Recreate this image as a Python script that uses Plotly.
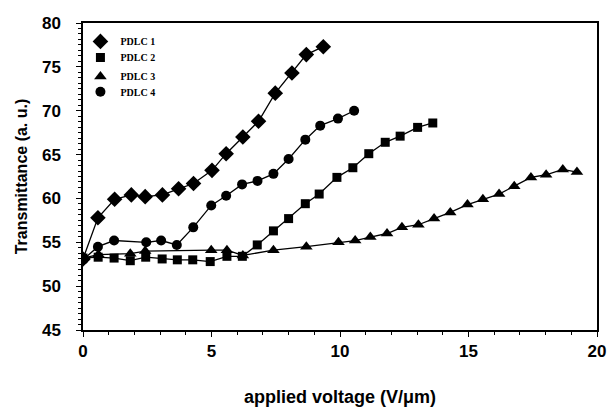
import plotly.graph_objects as go

# PDLC 1 (diamonds)
x1 = [0, 0.58, 1.23, 1.88, 2.42, 3.09, 3.72, 4.30, 5.02, 5.57, 6.22, 6.83, 7.48, 8.13, 8.69, 9.35]
y1 = [53.1, 57.8, 59.9, 60.4, 60.2, 60.4, 61.1, 61.7, 63.2, 65.1, 67.0, 68.8, 72.0, 74.3, 76.4, 77.3]

# PDLC 2 (squares)
x2 = [0, 0.59, 1.21, 1.84, 2.44, 3.08, 3.67, 4.27, 4.95, 5.60, 6.20, 6.78, 7.41, 8.0, 8.65,
      9.19, 9.88, 10.5, 11.12, 11.76, 12.34, 13.02, 13.61]
y2 = [53.2, 53.3, 53.2, 52.9, 53.3, 53.1, 53.0, 53.0, 52.8, 53.4, 53.4, 54.7, 56.3, 57.7, 59.4,
      60.5, 62.4, 63.5, 65.1, 66.4, 67.1, 68.1, 68.6]

# PDLC 3 (triangles)
x3 = [0, 0.6, 1.84, 2.42, 4.99, 5.6, 6.22, 7.41, 8.69, 9.94, 10.59, 11.18, 11.83, 12.41, 13.05,
      13.66, 14.29, 14.96, 15.56, 16.19, 16.78, 17.43, 18.02, 18.67, 19.22]
y3 = [53.2, 53.6, 53.7, 54.0, 54.1, 54.1, 53.5, 54.1, 54.5, 55.0, 55.2, 55.6, 56.0, 56.7, 57.0,
      57.7, 58.4, 59.3, 59.9, 60.5, 61.4, 62.4, 62.7, 63.3, 63.0]

# PDLC 4 (circles)
x4 = [0, 0.58, 1.21, 2.46, 3.04, 3.65, 4.29, 4.99, 5.57, 6.19, 6.79, 7.41, 8.0, 8.65, 9.23, 9.92, 10.55]
y4 = [53.0, 54.5, 55.2, 55.0, 55.2, 54.7, 56.7, 59.2, 60.3, 61.6, 62.0, 62.8, 64.5, 66.7, 68.3, 69.1, 70.0]

names = ["PDLC 1", "PDLC 2", "PDLC 3", "PDLC 4"]
symbols = ["diamond", "square", "triangle-up", "circle"]
sizes = [12, 9, 11, 10]
legend_ids = ["legend", "legend2", "legend3", "legend4"]
legend_y = [0.94, 0.888, 0.826, 0.776]

fig = go.Figure()
for xs, ys, nm, sym, sz, lid in zip([x1, x2, x3, x4], [y1, y2, y3, y4], names, symbols, sizes, legend_ids):
    fig.add_trace(go.Scatter(
        x=xs, y=ys, name=nm, mode="lines", showlegend=False,
        line=dict(color="black", width=1.3), hoverinfo="skip",
    ))
    fig.add_trace(go.Scatter(
        x=xs, y=ys, name=nm, mode="markers", legend=lid,
        marker=dict(symbol=sym, size=sz, color="black"),
    ))

leg_font = dict(family="Liberation Serif, Times New Roman, serif", size=10, color="black", weight="bold")
legends = {}
for lid, ly in zip(legend_ids, legend_y):
    legends[lid] = dict(
        x=-0.005, y=ly, xanchor="left", yanchor="middle",
        font=leg_font, bgcolor="rgba(0,0,0,0)", itemwidth=30,
        borderwidth=0,
    )

fig.update_layout(
    width=607, height=407,
    margin=dict(l=83, r=10, t=23, b=77),
    paper_bgcolor="white", plot_bgcolor="white",
    showlegend=True,
    font=dict(family="Liberation Sans, Arial, sans-serif", size=16, color="black"),
    **legends,
)

fig.update_xaxes(
    range=[0, 20], dtick=5, tick0=0, automargin=False,
    showgrid=False, zeroline=False,
    showline=True, linecolor="black", linewidth=1.5, mirror=True,
    ticks="outside", ticklen=5, tickwidth=1.2, tickcolor="black",
    minor=dict(dtick=1, ticks="outside", ticklen=3, tickwidth=1, tickcolor="black"),
    tickfont=dict(family="Liberation Sans, Arial, sans-serif", size=17, color="black", weight="bold"),
    title=dict(text="<b>applied voltage (V/μm)</b>", standoff=38,
               font=dict(family="Liberation Sans, Arial, sans-serif", size=18, color="black")),
)
fig.update_yaxes(
    range=[45, 80], dtick=5, tick0=45, automargin=False,
    showgrid=False, zeroline=False,
    showline=True, linecolor="black", linewidth=1.5, mirror=True,
    ticks="outside", ticklen=5, tickwidth=1.2, tickcolor="black",
    minor=dict(dtick=0.625, ticks="outside", ticklen=3, tickwidth=1, tickcolor="black"),
    tickfont=dict(family="Liberation Sans, Arial, sans-serif", size=17, color="black", weight="bold"),
    ticklabelstandoff=12,
    title=dict(text="<b>Transmittance (a. u.)</b>", standoff=10,
               font=dict(family="Liberation Sans, Arial, sans-serif", size=16, color="black")),
)

fig.write_html("out.html")
